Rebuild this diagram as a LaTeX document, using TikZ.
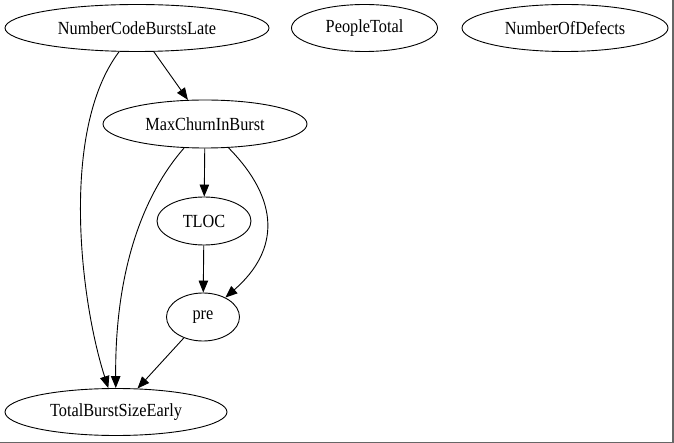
\documentclass[tikz,border=0pt]{standalone}
\usepackage{fontspec}
\setmainfont[FakeStretch=0.88]{Liberation Serif}
\usetikzlibrary{shapes.geometric,arrows.meta}
\tikzset{
  gnode/.style={draw, ellipse, inner sep=0pt, line width=0.9bp, font=\fontsize{18.5bp}{20bp}\selectfont},
  gedge/.style={draw, line width=0.9bp, -{Triangle[length=12bp,width=9.5bp]}},
}
\newcommand{\nb}[1]{\raisebox{-1.5bp}{\makebox[0pt]{#1}}}
\begin{document}
\begin{tikzpicture}[x=1bp,y=-1bp]
\useasboundingbox (0,0) rectangle (674,443);
\draw[gray!80!black, line width=1.5bp] (673,0) -- (673,442.5) -- (0,442.5);
\node[gnode, minimum width=264bp, minimum height=47bp] (ncbl) at (137,28) {\nb{NumberCodeBurstsLate}};
\node[gnode, minimum width=146bp, minimum height=47bp] (pt) at (364.5,28) {\nb{PeopleTotal}};
\node[gnode, minimum width=206bp, minimum height=47bp] (nod) at (565,28) {\nb{NumberOfDefects}};
\node[gnode, minimum width=204bp, minimum height=48bp] (mcib) at (205,124) {\nb{MaxChurnInBurst}};
\node[gnode, minimum width=94bp, minimum height=48bp] (tloc) at (204,221) {\nb{TLOC}};
\node[gnode, minimum width=73bp, minimum height=48bp] (pre) at (203,317) {\nb{pre}};
\node[gnode, minimum width=222bp, minimum height=47bp] (tbse) at (116,412) {\nb{TotalBurstSizeEarly}};
\draw[gedge] (ncbl) -- (mcib);
\draw[gedge] (ncbl) .. controls (60,130) and (80,300) .. (tbse);
\draw[gedge] (mcib) .. controls (130,210) and (115,300) .. (tbse);
\draw[gedge] (mcib) -- (tloc);
\draw[gedge] (mcib) .. controls (280,200) and (280,250) .. (pre);
\draw[gedge] (tloc) -- (pre);
\draw[gedge] (pre) -- (tbse);
\end{tikzpicture}
\end{document}
